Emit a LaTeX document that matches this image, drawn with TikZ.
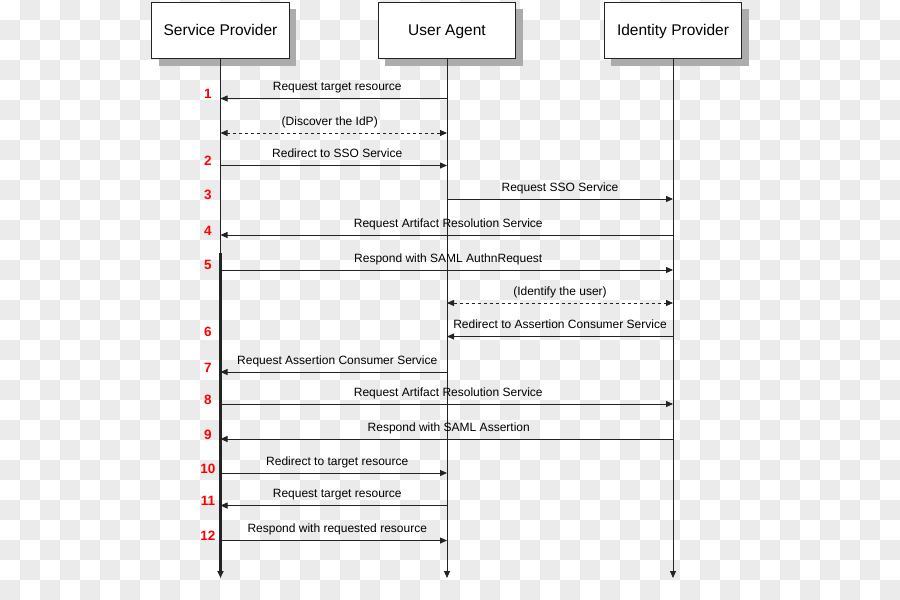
\documentclass[tikz,border=0pt]{standalone}
\usepackage{fontspec}
\setmainfont{Liberation Sans}
\usetikzlibrary{arrows.meta,shadows}
\definecolor{checker}{RGB}{235,235,235}
\definecolor{shadowc}{RGB}{172,172,172}
\definecolor{linec}{RGB}{35,35,35}
\definecolor{numred}{RGB}{255,0,0}
\tikzset{
  actor/.style={draw=linec, line width=0.9pt, fill=white, minimum width=137.5pt,
    minimum height=56.5pt, inner sep=0pt, font=\fontsize{15.5}{18}\selectfont, text=black,
    text height=11.2pt, text depth=1.7pt,
    general shadow={fill=shadowc, shadow xshift=7pt, shadow yshift=-7pt}},
  tip/.style={-{Triangle[length=7pt,width=6pt]}},
  life/.style={draw=linec, line width=0.8pt, tip},
  msg/.style={draw=linec, line width=0.8pt, tip},
  dmsg/.style={draw=linec, line width=0.8pt, {Triangle[length=7pt,width=6pt]}-{Triangle[length=7pt,width=6pt]}, dash pattern=on 3pt off 3pt},
  lbl/.style={font=\fontsize{12}{14}\selectfont, text=black, inner sep=0pt, anchor=base, yshift=8pt},
  num/.style={font=\fontsize{13.5}{16}\bfseries\selectfont, text=numred, inner sep=0pt, anchor=base},
}
\begin{document}
\begin{tikzpicture}[x=1pt,y=-1pt]
\useasboundingbox (0,0) rectangle (900,600);
% checkerboard background
\begin{scope}
\clip (0,0) rectangle (900,600);
\fill[white] (0,0) rectangle (900,600);
\foreach \j in {0,...,29}{
  \pgfmathsetmacro\off{mod(\j,2)==0 ? 20 : 0}
  \foreach \i in {0,40,...,880}{
    \fill[checker] (\i+\off,\j*20) rectangle ++(20,20);
  }
}
\end{scope}
% actors
\node[actor] (sp)  at (220.5,30.25) {Service Provider};
\node[actor] (ua)  at (447,30.25)   {User Agent};
\node[actor] (idp) at (673,30.25)   {Identity Provider};
% lifeline coordinates
\coordinate (spthick) at (220.5,253);
\coordinate (spend)  at (220.5,578);
\coordinate (uaend)  at (447,578);
\coordinate (idpend) at (673,578);
\draw[draw=linec, line width=0.8pt] (sp.south) -- (spthick);
\draw[life, line width=2.2pt] (spthick) -- (spend);
\draw[life] (ua.south) -- (uaend);
\draw[life] (idp.south) -- (idpend);
% rows
\coordinate (r1)  at (0,98.5);
\coordinate (rd1) at (0,133);
\coordinate (r2)  at (0,165.5);
\coordinate (r3)  at (0,199);
\coordinate (r4)  at (0,235);
\coordinate (r5)  at (0,270);
\coordinate (rd2) at (0,303);
\coordinate (r6)  at (0,336.5);
\coordinate (r7)  at (0,372);
\coordinate (r8)  at (0,404);
\coordinate (r9)  at (0,439);
\coordinate (r10) at (0,473);
\coordinate (r11) at (0,505.5);
\coordinate (r12) at (0,540.5);
% messages
\draw[msg]  (ua |- r1)  -- (sp |- r1)  node[lbl, midway, xshift=3.5pt] (l1) {Request target resource};
\draw[dmsg] (sp |- rd1) -- (ua |- rd1) node[lbl, midway, xshift=-4pt] (ld1) {(Discover the IdP)};
\draw[msg]  (sp |- r2)  -- (ua |- r2)  node[lbl, midway, xshift=3.5pt] (l2) {Redirect to SSO Service};
\draw[msg]  (ua |- r3)  -- (idp |- r3) node[lbl, midway] (l3) {Request SSO Service};
\draw[msg]  (idp |- r4) -- (sp |- r4)  node[lbl, midway, xshift=1.5pt] (l4) {Request Artifact Resolution Service};
\draw[msg]  (sp |- r5)  -- (idp |- r5) node[lbl, midway, xshift=1.5pt] (l5) {Respond with SAML AuthnRequest};
\draw[dmsg] (ua |- rd2) -- (idp |- rd2) node[lbl, midway] (ld2) {(Identify the user)};
\draw[msg]  (idp |- r6) -- (ua |- r6)  node[lbl, midway] (l6) {Redirect to Assertion Consumer Service};
\draw[msg]  (ua |- r7)  -- (sp |- r7)  node[lbl, midway, xshift=3.5pt] (l7) {Request Assertion Consumer Service};
\draw[msg]  (sp |- r8)  -- (idp |- r8) node[lbl, midway, xshift=1.5pt] (l8) {Request Artifact Resolution Service};
\draw[msg]  (idp |- r9) -- (sp |- r9)  node[lbl, midway, xshift=2pt] (l9) {Respond with SAML Assertion};
\draw[msg]  (sp |- r10) -- (ua |- r10) node[lbl, midway, xshift=3.5pt] (l10) {Redirect to target resource};
\draw[msg]  (ua |- r11) -- (sp |- r11) node[lbl, midway, xshift=3.5pt] (l11) {Request target resource};
\draw[msg]  (sp |- r12) -- (ua |- r12) node[lbl, midway, xshift=3.5pt] (l12) {Respond with requested resource};
% step numbers
\node[num] (n1)  at (208,98.5)  {1};
\node[num] (n2)  at (208,165.5) {2};
\node[num] (n3)  at (208,199)   {3};
\node[num] (n4)  at (208,235)   {4};
\node[num] (n5)  at (208,269.5) {5};
\node[num] (n6)  at (208,336.5) {6};
\node[num] (n7)  at (208,372)   {7};
\node[num] (n8)  at (208,404)   {8};
\node[num] (n9)  at (208,439)   {9};
\node[num] (n10) at (208,473)   {10};
\node[num] (n11) at (208,505.5) {11};
\node[num] (n12) at (208,540.5) {12};
\end{tikzpicture}
\end{document}
